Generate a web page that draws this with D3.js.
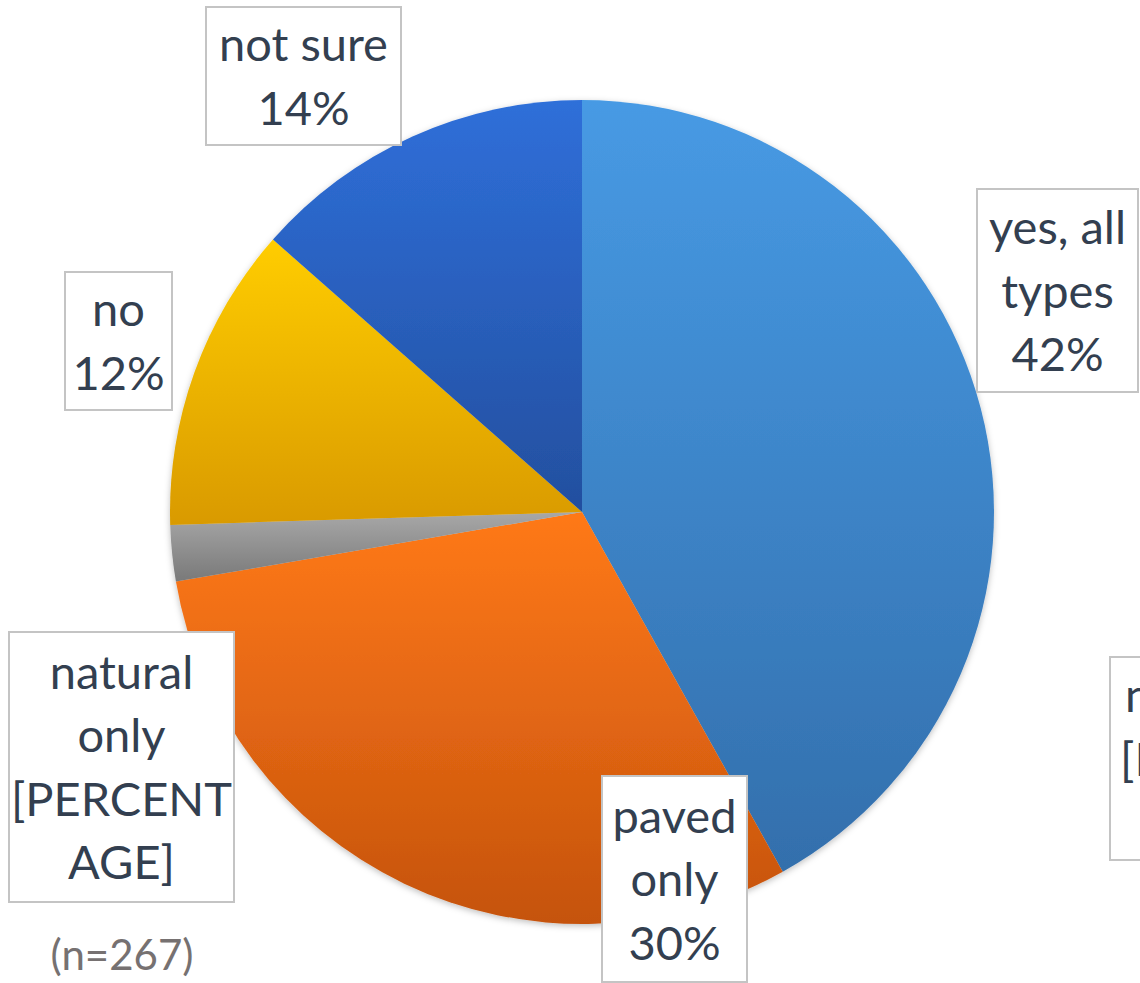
<!DOCTYPE html>
<html>
<head>
<meta charset="utf-8">
<script src="https://cdn.jsdelivr.net/npm/d3@7"></script>
<style>
  body { margin: 0; background: #fff; }
  svg { display: block; }
</style>
</head>
<body>
<svg id="chart" width="1140" height="983"></svg>
<script>
// data
var categories = ["yes, all types", "paved only", "natural only", "no", "not sure"];
var values = [41.9, 30.4, 2.2, 12.0, 13.5];
var labelLines = [
    ["yes, all", "types", "42%"],
    ["paved", "only", "30%"],
    ["natural", "only", "[PERCENT", "AGE]"],
    ["no", "12%"],
    ["not sure", "14%"]
];
var colorTop = ["#479ae4", "#ff7918", "#a8a8a8", "#ffcd00", "#2f6fd9"];
var colorBottom = ["#336fac", "#c5530d", "#797979", "#d99a00", "#234f9f"];
var sampleNote = "(n=267)";

// label boxes (layout)
var boxes = [
    { x: 977, y: 189, w: 161, h: 203 },
    { x: 602, y: 776, w: 145, h: 206 },
    { x: 9, y: 632, w: 225, h: 270 },
    { x: 65, y: 272, w: 107, h: 138 },
    { x: 206, y: 7, w: 195, h: 138 }
];

var svg = d3.select("#chart");
var cx = 582, cy = 512, radius = 412;
var font = "Lato, 'Open Sans', sans-serif";

var defs = svg.append("defs");
categories.forEach(function (c, i) {
    var g = defs.append("linearGradient")
        .attr("id", "grad" + i)
        .attr("x1", 0).attr("y1", 0).attr("x2", 0).attr("y2", 1);
    g.append("stop").attr("offset", "0%").attr("stop-color", colorTop[i]);
    g.append("stop").attr("offset", "100%").attr("stop-color", colorBottom[i]);
});

var shadow = defs.append("filter").attr("id", "shadow")
    .attr("x", "-10%").attr("y", "-10%").attr("width", "120%").attr("height", "120%");
shadow.append("feDropShadow")
    .attr("dx", 0).attr("dy", 2).attr("stdDeviation", 3)
    .attr("flood-color", "#000").attr("flood-opacity", 0.25);

var pie = d3.pie().sort(null).value(function (d) { return d; });
var arc = d3.arc().innerRadius(0).outerRadius(radius);

var g = svg.append("g")
    .attr("transform", "translate(" + cx + "," + cy + ")")
    .attr("filter", "url(#shadow)");

g.selectAll(".slice")
    .data(pie(values))
    .enter()
    .append("path")
    .attr("class", "slice")
    .attr("d", arc)
    .attr("fill", function (d, i) { return "url(#grad" + i + ")"; });

// labels
var labels = svg.selectAll(".lbl")
    .data(boxes)
    .enter()
    .append("g")
    .attr("class", "lbl");

labels.append("rect")
    .attr("x", function (d) { return d.x; })
    .attr("y", function (d) { return d.y; })
    .attr("width", function (d) { return d.w; })
    .attr("height", function (d) { return d.h; })
    .attr("fill", "#fff")
    .attr("stroke", "#c4c4c4")
    .attr("stroke-width", 2);

labels.each(function (d, i) {
    var lines = labelLines[i];
    var lh = 63.5;
    var first = d.y + d.h / 2 - (lines.length - 1) * lh / 2 + 17;
    d3.select(this).selectAll("text")
        .data(lines)
        .enter()
        .append("text")
        .attr("x", d.x + d.w / 2)
        .attr("y", function (t, j) { return first + j * lh; })
        .attr("text-anchor", "middle")
        .attr("font-family", font)
        .attr("font-size", 47)
        .attr("fill", "#333f50")
        .text(function (t) { return t; });
});

// stray duplicate label at right edge (partially off-canvas, as in the source)
var stray = svg.append("g");
stray.append("rect")
    .attr("x", 1110).attr("y", 657).attr("width", 120).attr("height", 203)
    .attr("fill", "#fff").attr("stroke", "#c4c4c4").attr("stroke-width", 2);
stray.selectAll("text")
    .data(["natural", "[PERCENT"])
    .enter()
    .append("text")
    .attr("x", function (t, j) { return j === 0 ? 1125 : 1120; })
    .attr("y", function (t, j) { return 712 + j * 63.5; })
    .attr("font-family", font)
    .attr("font-size", 47)
    .attr("fill", "#333f50")
    .text(function (t) { return t; });

svg.append("text")
    .attr("x", 122)
    .attr("y", 970)
    .attr("text-anchor", "middle")
    .attr("font-family", font)
    .attr("font-size", 42)
    .attr("fill", "#767171")
    .text(sampleNote);
</script>
</body>
</html>
